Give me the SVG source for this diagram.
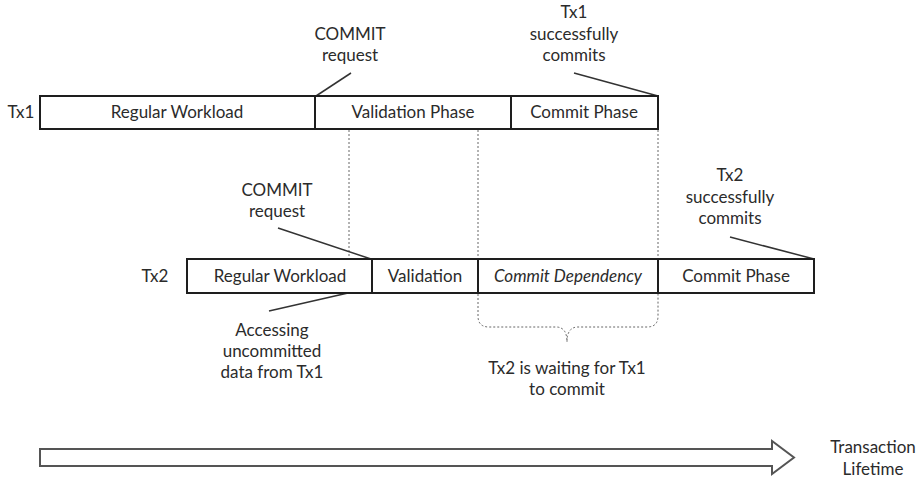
<svg xmlns="http://www.w3.org/2000/svg" width="924" height="480" viewBox="0 0 924 480">
  <style>
    text { font-family: Lato, "Open Sans", "Liberation Sans", sans-serif; font-size: 17px; fill: #2b2b2b; text-anchor: middle; }
    .it { font-style: italic; }
    .bar { fill: #fff; stroke: #1e1e1e; stroke-width: 2; }
    .div { stroke: #1e1e1e; stroke-width: 2; }
    .lead { stroke: #333; stroke-width: 1.5; fill: none; }
    .dot { stroke: #666; stroke-width: 1; stroke-dasharray: 2 2; fill: none; }
  </style>
  <rect width="924" height="480" fill="#fff"/>

  <!-- timing guides and callout lines -->
  <g id="connectors">
    <line class="dot" x1="349" y1="130" x2="349" y2="292"/>
    <line class="dot" x1="478" y1="130" x2="478" y2="258"/>
    <line class="dot" x1="658" y1="130" x2="658" y2="258"/>
    <path class="dot" d="M478,294 V316 Q478,327 489,327 H556 Q567,327 567,342 Q567,327 578,327 H647 Q658,327 658,316 V294"/>
    <line class="lead" x1="351" y1="73" x2="316" y2="96"/>
    <line class="lead" x1="574" y1="73" x2="658" y2="96"/>
    <line class="lead" x1="278" y1="228" x2="371" y2="259"/>
    <line class="lead" x1="730" y1="237" x2="814" y2="259"/>
    <line class="lead" x1="348" y1="293" x2="269" y2="311"/>
  </g>

  <!-- Tx1 lifeline -->
  <g id="tx1">
    <text x="21" y="118">Tx1</text>
    <rect class="bar" x="40" y="96" width="618" height="33"/>
    <line class="div" x1="315" y1="96" x2="315" y2="129"/>
    <line class="div" x1="511" y1="96" x2="511" y2="129"/>
    <text x="177" y="118">Regular Workload</text>
    <text x="413" y="118">Validation Phase</text>
    <text x="584" y="118">Commit Phase</text>
  </g>

  <!-- Tx2 lifeline -->
  <g id="tx2">
    <text x="155" y="282">Tx2</text>
    <rect class="bar" x="187" y="259" width="627" height="34"/>
    <line class="div" x1="372" y1="259" x2="372" y2="293"/>
    <line class="div" x1="478" y1="259" x2="478" y2="293"/>
    <line class="div" x1="658" y1="259" x2="658" y2="293"/>
    <text x="280" y="282">Regular Workload</text>
    <text x="425" y="282">Validation</text>
    <text class="it" x="568" y="282">Commit Dependency</text>
    <text x="736" y="282">Commit Phase</text>
  </g>

  <!-- annotations -->
  <g id="tx1-commit-request">
    <text x="350" y="40">COMMIT</text>
    <text x="350" y="61">request</text>
  </g>
  <g id="tx1-commits">
    <text x="574" y="18">Tx1</text>
    <text x="574" y="40">successfully</text>
    <text x="574" y="61">commits</text>
  </g>
  <g id="tx2-commit-request">
    <text x="277" y="196">COMMIT</text>
    <text x="277" y="217">request</text>
  </g>
  <g id="tx2-commits">
    <text x="730" y="181">Tx2</text>
    <text x="730" y="203">successfully</text>
    <text x="730" y="224">commits</text>
  </g>
  <g id="uncommitted-access">
    <text x="272" y="336">Accessing</text>
    <text x="272" y="357">uncommitted</text>
    <text x="272" y="378">data from Tx1</text>
  </g>
  <g id="waiting">
    <text x="567" y="374">Tx2 is waiting for Tx1</text>
    <text x="567" y="395">to commit</text>
  </g>

  <!-- time axis -->
  <g id="lifetime-arrow">
    <polygon points="40,449 772,449 772,441 794,457.5 772,474 772,466 40,466" fill="#fff" stroke="#555" stroke-width="2" stroke-linejoin="miter"/>
    <text x="873" y="453">Transaction</text>
    <text x="873" y="475">Lifetime</text>
  </g>
</svg>
